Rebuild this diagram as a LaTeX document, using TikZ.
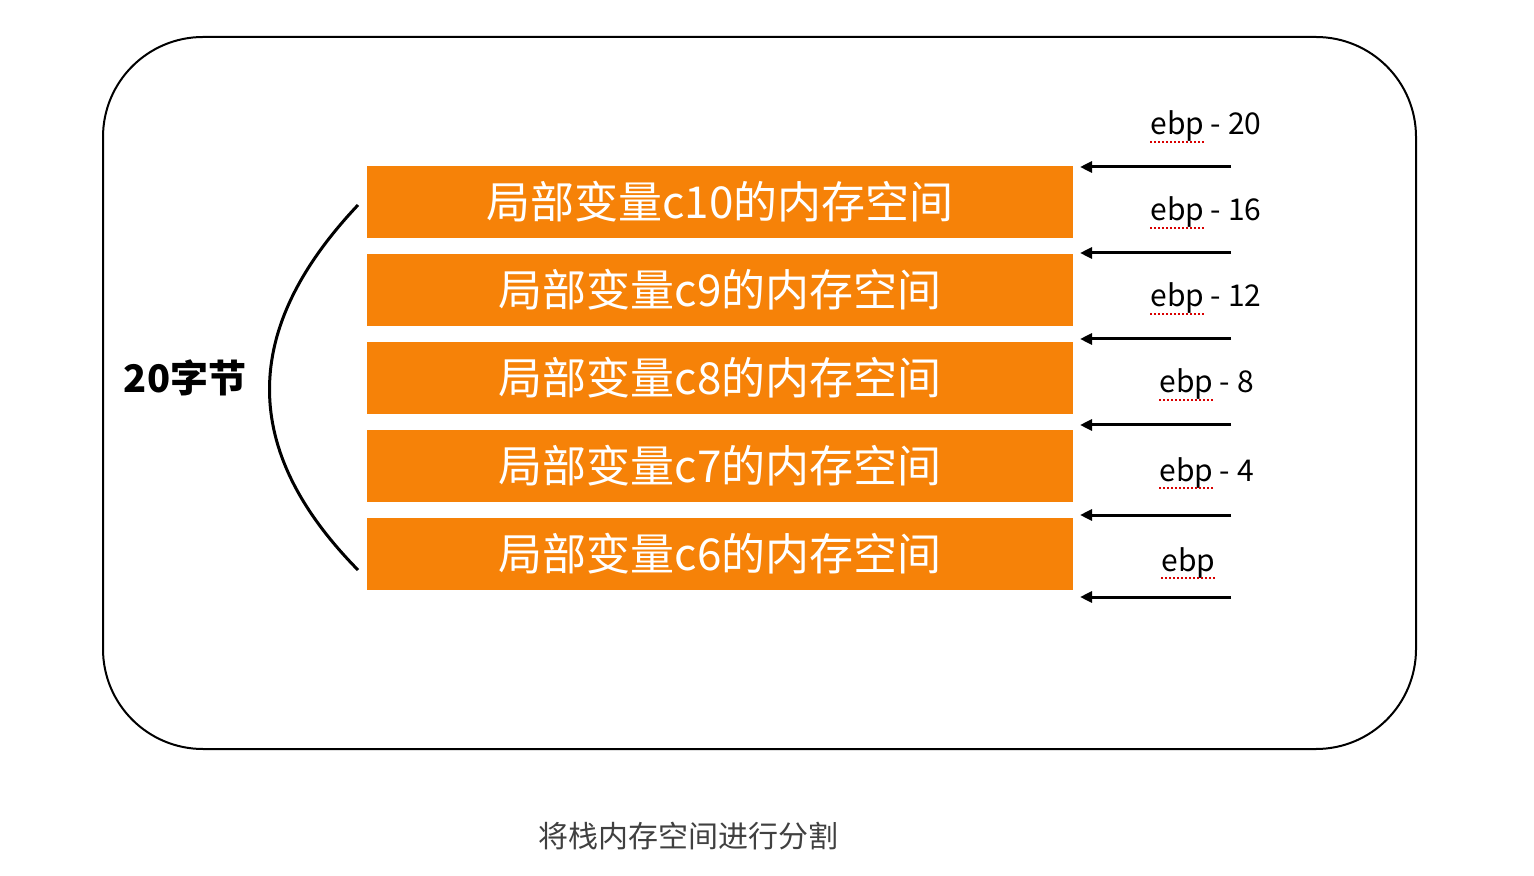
\documentclass[tikz,border=0pt]{standalone}
\usepackage{fontspec}
\setmainfont{Noto Sans CJK SC}
\usetikzlibrary{calc,arrows.meta}
\definecolor{org}{RGB}{246,130,8}
\begin{document}
\begin{tikzpicture}[x=0.5pt,y=-0.5pt,
  cell/.style={fill=org,minimum width=353pt,minimum height=36pt,inner sep=0,text=white,font=\fontsize{22}{26}\selectfont},
  lab/.style={font=\fontsize{15}{18}\selectfont,inner sep=0,anchor=base west},
  arr/.style={line width=1.5pt,-{Triangle[length=6pt,width=5.5pt]}},
  sq/.style={red!85!black,line width=0.9pt,dash pattern=on 1pt off 1pt}]
\useasboundingbox (0,0) rectangle (1534,876);
\draw[line width=1pt,rounded corners=50pt] (103,37) rectangle (1416,749);
\foreach \i/\t/\y in {1/c10/202,2/c9/290,3/c8/378,4/c7/466,5/c6/554}{
  \node[cell] (b\i) at (720,\y) {局部变量\t 的内存空间};
}
\foreach \i/\y in {0/167,1/253,2/339,3/425,4/515,5/597}{
  \coordinate (s\i) at (1231,\y);
  \coordinate (e\i) at (1080,\y);
  \draw[arr] (s\i) -- (e\i);
}
\foreach \i/\t/\x/\y in {1/ebp - 20/1150/135,2/ebp - 16/1150/221,3/ebp - 12/1150/307,4/ebp - 8/1159/393,5/ebp - 4/1159/481,6/ebp/1161/571}{
  \node[lab] (l\i) at (\x,\y) {\t};
  \draw[sq] ($(l\i.base west)+(0,7)$) -- ++(56,0);
}
\coordinate (a1) at (358,205);
\coordinate (a2) at (358,570);
\draw[line width=1.5pt] (a1) .. controls (240,330) and (240,450) .. (a2);
\node[font=\bfseries\fontsize{19}{22}\selectfont] (t) at (185,378) {20字节};
\node[font=\fontsize{15}{18}\selectfont,text=black!75] (cap) at (688,836) {将栈内存空间进行分割};
\end{tikzpicture}
\end{document}
